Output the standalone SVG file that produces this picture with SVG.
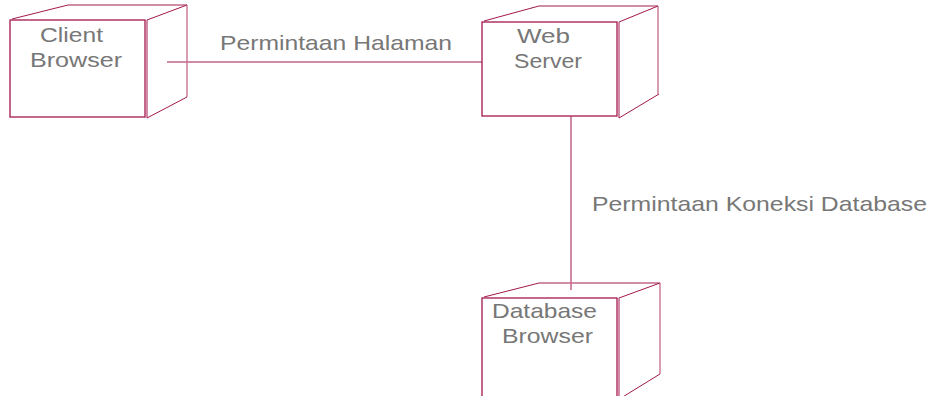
<svg xmlns="http://www.w3.org/2000/svg" width="944" height="396" viewBox="0 0 944 396">
<style>
.front{fill:none;stroke:#A3174D;stroke-width:1.3}
.back{fill:none;stroke:#C4688A;stroke-width:1.3}
.edge{fill:none;stroke:#A3174D;stroke-width:1}
.lbl{font-family:"Liberation Sans",Arial,sans-serif;font-size:21px;fill:#777777}
.conn{stroke:#A3174D;stroke-width:1;fill:none}
</style>
<rect width="944" height="396" fill="#ffffff"/>
<g id="connectors">
<line class="conn" x1="167" y1="62" x2="482" y2="62"/>
<line class="conn" x1="571" y1="116" x2="571" y2="290"/>
<text class="lbl" x="220" y="50" textLength="232" lengthAdjust="spacingAndGlyphs">Permintaan Halaman</text>
<text class="lbl" x="592" y="211" textLength="335" lengthAdjust="spacingAndGlyphs">Permintaan Koneksi Database</text>
</g>
<g id="client-browser">
<rect class="front" x="10" y="20" width="135" height="97"/>
<line class="edge" x1="12" y1="19" x2="68" y2="5"/>
<line class="back" x1="68" y1="5" x2="187" y2="5"/>
<line class="edge" x1="147" y1="20" x2="187" y2="5"/>
<line class="back" x1="187" y1="5" x2="187" y2="97"/>
<line class="edge" x1="147" y1="118" x2="187" y2="97"/>
<line class="edge" x1="147" y1="20" x2="147" y2="118"/>
<text class="lbl" x="40" y="42" textLength="63" lengthAdjust="spacingAndGlyphs">Client</text>
<text class="lbl" x="30" y="67" textLength="92" lengthAdjust="spacingAndGlyphs">Browser</text>
</g>
<g id="web-server">
<rect class="front" x="482" y="22" width="135" height="94"/>
<line class="edge" x1="484" y1="21" x2="539" y2="6"/>
<line class="back" x1="539" y1="6" x2="658" y2="6"/>
<line class="edge" x1="619" y1="22" x2="658" y2="6"/>
<line class="back" x1="658" y1="6" x2="658" y2="94"/>
<line class="edge" x1="619" y1="118" x2="659" y2="94"/>
<line class="edge" x1="619" y1="22" x2="619" y2="118"/>
<text class="lbl" x="517" y="43" textLength="53" lengthAdjust="spacingAndGlyphs">Web</text>
<text class="lbl" x="514" y="68" textLength="68" lengthAdjust="spacingAndGlyphs">Server</text>
</g>
<g id="database-browser">
<rect class="front" x="482" y="298" width="135" height="110"/>
<line class="edge" x1="484" y1="297" x2="539" y2="283"/>
<line class="back" x1="539" y1="283" x2="660" y2="283"/>
<line class="edge" x1="619" y1="298" x2="660" y2="283"/>
<line class="back" x1="660" y1="283" x2="660" y2="374"/>
<line class="edge" x1="621" y1="398" x2="660" y2="374"/>
<line class="edge" x1="619" y1="298" x2="619" y2="400"/>
<text class="lbl" x="492" y="318" textLength="105" lengthAdjust="spacingAndGlyphs">Database</text>
<text class="lbl" x="502" y="343" textLength="91" lengthAdjust="spacingAndGlyphs">Browser</text>
</g>
</svg>
